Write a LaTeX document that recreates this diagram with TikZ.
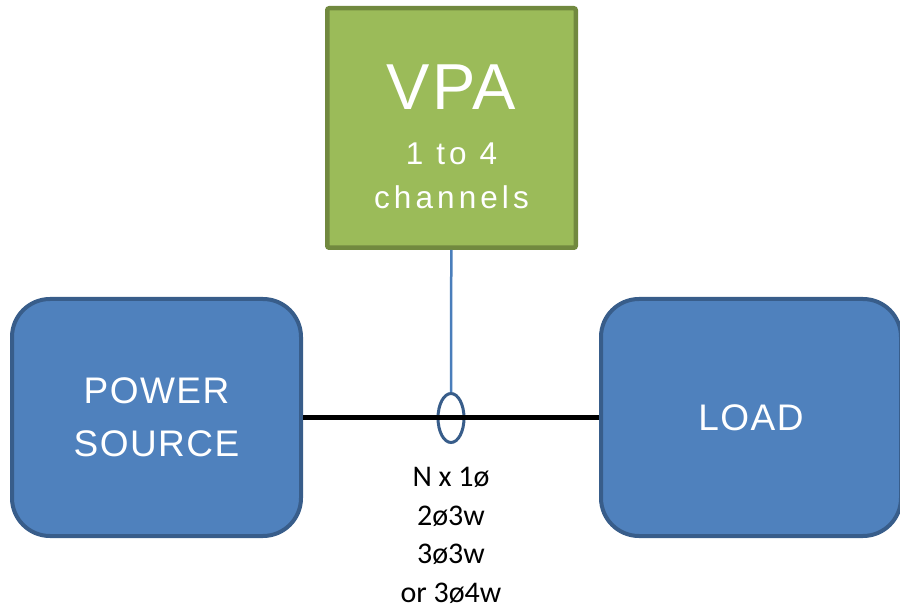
\documentclass[tikz,border=0pt]{standalone}
\usepackage{xcolor}
\usepackage{fontspec}
\setmainfont{Liberation Sans}
\newfontfamily\notefont{Carlito}
\usetikzlibrary{arrows,shapes.geometric}
\definecolor{vpagreen}{HTML}{9BBB59}
\definecolor{vpaedge}{HTML}{71893F}
\definecolor{boxblue}{HTML}{4F81BD}
\definecolor{boxedge}{HTML}{385D8A}
\definecolor{wireblue}{HTML}{4A7EBB}

\begin{document}
\begin{tikzpicture}[x=1pt,y=-1pt,node distance=594.5pt,
  blue node/.style={rectangle,rounded corners=38pt,draw=boxedge,fill=boxblue,
    line width=4pt,minimum width=289pt,minimum height=237pt,text=white,align=center,
    font=\fontsize{37}{53}\selectfont\addfontfeatures{LetterSpace=4}},
  green node/.style={rectangle,rounded corners=2pt,draw=vpaedge,fill=vpagreen,
    line width=4.5pt,minimum width=248.5pt,minimum height=239.5pt,text=white,align=center,
    font=\fontsize{31.5}{44}\selectfont\addfontfeatures{LetterSpace=13}},
  clamp node/.style={ellipse,draw=boxedge,line width=3pt,minimum width=26pt,
    minimum height=49pt,inner sep=0pt}]
  \useasboundingbox (0,0) rectangle (900,609);
  \node[green node] (vpa) at (451.5,128)
    {{\fontsize{65}{65}\selectfont\addfontfeatures{LetterSpace=3}\rule{0pt}{63pt}VPA}\\[11pt]
     1 to 4\\channels};
  \node[blue node] (src) at (156.5,417.5) {POWER\\SOURCE};
  \node[blue node, minimum width=300pt] (load) [right of=src] {LOAD};
  \node[clamp node] (clamp) at (451,418) {};
  \node[anchor=north,inner sep=0pt,align=center,
    font=\notefont\fontsize{30}{38.7}\selectfont] (phases) at (451,467)
    {N x 1ø\\2ø3w\\3ø3w\\or 3ø4w};
  \path
    (src) edge [black, line width=4.5pt] (load)
    (vpa) edge [wireblue, line width=2.5pt] (clamp)
;
\end{tikzpicture}
\end{document}
